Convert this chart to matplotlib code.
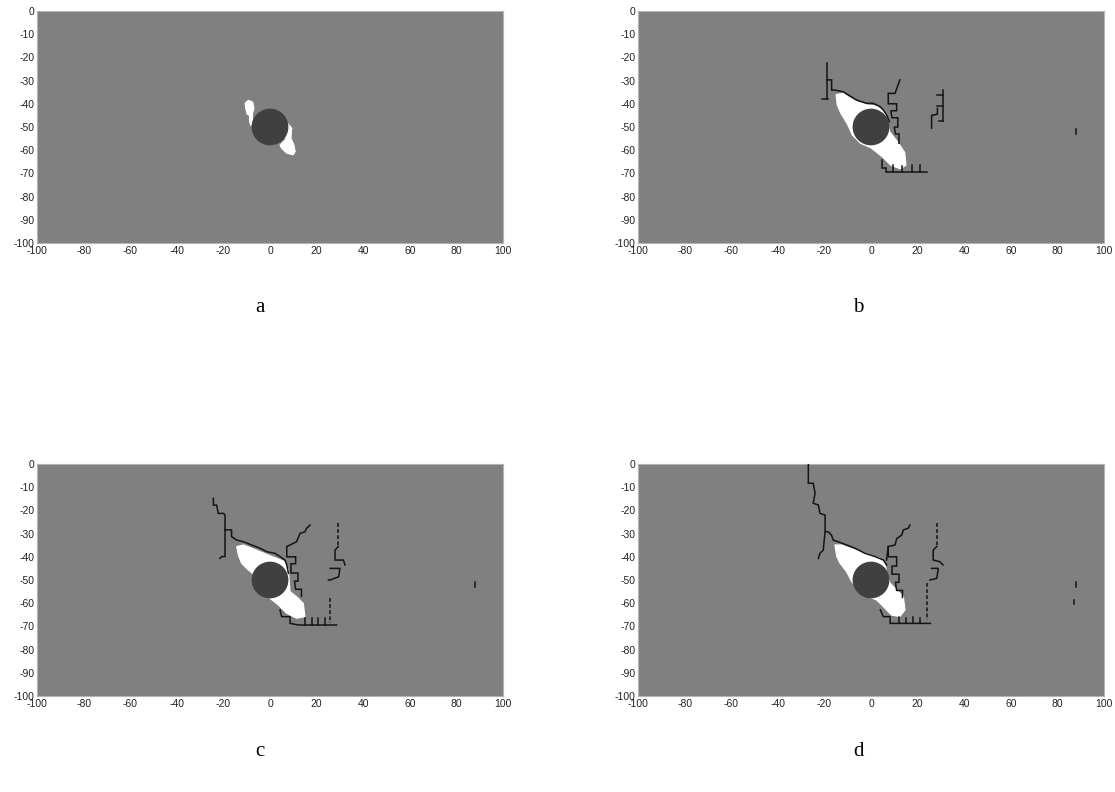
import numpy as np
import matplotlib.pyplot as plt
from matplotlib.patches import Circle

# robot body (same in every frame)
ROBOT_X = 0.0
ROBOT_Y = -50.0
ROBOT_R = 7.6

X_TICKS = list(range(-100, 101, 20))
Y_TICKS = list(range(0, -101, -10))
PANEL_LABELS = ["a", "b", "c", "d"]

# free (white) cells seen by the sensor, one outline per blob
FREE_A = [
    [(-10.7, -39.8), (-9.3, -38.5), (-7.4, -39.3), (-6.9, -42.0), (-7.5, -44.0),
     (-7.6, -47.0), (-8.2, -49.5), (-8.8, -47.5), (-8.8, -45.0), (-9.8, -44.5), (-10.3, -42.5)],
    [(7.6, -48.5), (9.3, -50.5), (9.0, -55.0), (10.2, -57.5), (10.8, -60.5), (10.0, -62.0),
     (7.2, -61.3), (5.0, -59.2), (4.3, -57.8), (6.5, -55.5), (7.5, -52.0)],
]
FREE_B = [
    [(-15.0, -36.0), (-12.0, -35.5), (-9.0, -37.5), (-6.0, -39.0), (-1.5, -40.5), (2.5, -41.0),
     (5.5, -43.5), (7.0, -47.0), (8.0, -52.0), (11.5, -56.5), (14.5, -61.0), (15.0, -66.5),
     (12.5, -68.0), (8.5, -66.5), (5.0, -63.0), (0.0, -59.0), (-4.5, -57.0), (-8.0, -53.5),
     (-10.0, -49.0), (-13.0, -44.0), (-14.5, -40.5)],
]
FREE_C = [
    [(-14.3, -35.6), (-11.4, -34.9), (-7.9, -36.3), (-0.7, -39.2), (6.4, -42.1), (7.9, -45.7),
     (8.6, -55.0), (11.4, -57.2), (14.3, -60.1), (15.0, -65.8), (11.4, -66.5), (7.2, -64.4),
     (3.6, -60.8), (0.0, -57.9), (-5.7, -48.6), (-9.3, -45.7), (-12.2, -42.8), (-13.6, -39.2)],
]
FREE_D = [
    [(-15.5, -34.9), (-12.6, -34.9), (-8.9, -36.3), (-4.7, -37.8), (-0.4, -39.2), (3.9, -40.7),
     (6.0, -42.8), (6.7, -47.1), (8.2, -51.4), (11.0, -54.3), (13.9, -57.2), (14.6, -62.9),
     (12.4, -65.8), (8.8, -65.1), (5.3, -61.5), (2.4, -58.6), (-1.2, -57.2), (-4.7, -55.0),
     (-8.3, -50.7), (-10.5, -46.4), (-13.3, -42.8), (-14.7, -39.9)],
]

# occupied cells (walls), as polylines
WALLS_A = []
WALLS_B = [
    [(-19.0, -22.5), (-19.0, -38.1)],
    [(-21.2, -38.1), (-18.3, -38.1)],
    [(-19.0, -29.7), (-16.9, -29.7), (-16.9, -34.1), (-15.5, -34.1), (-11.9, -34.8), (-9.7, -36.2),
     (-6.2, -38.4), (-1.9, -39.8), (1.0, -39.8), (3.9, -41.2), (5.3, -42.7), (6.7, -44.8), (7.9, -47.7)],
    [(12.4, -29.7), (10.3, -35.5), (7.4, -35.5), (7.4, -40.0), (11.0, -40.0), (11.0, -43.0),
     (8.5, -43.0), (9.0, -46.0), (11.5, -46.0), (11.5, -50.0), (10.0, -50.0), (10.5, -53.0),
     (12.0, -53.0), (12.0, -57.0)],
    [(4.6, -64.2), (4.6, -67.8), (6.5, -67.8), (6.5, -69.3), (23.9, -69.3)],
    [(9.6, -66.4), (9.6, -69.3)], [(13.2, -67.0), (13.2, -69.3)],
    [(17.5, -66.5), (17.5, -69.3)], [(21.1, -66.5), (21.1, -69.3)],
    [(31.0, -34.0), (31.0, -47.5)],
    [(28.5, -36.0), (31.0, -36.0)], [(28.5, -41.0), (31.0, -41.0)], [(29.0, -47.5), (31.0, -47.5)],
    [(26.0, -50.5), (26.0, -45.0), (28.5, -44.5), (28.5, -42.0)],
    [(88.0, -51.0), (88.0, -53.0)],
]
WALLS_C = [
    [(-24.3, -14.8), (-24.3, -17.7), (-22.9, -17.7), (-22.2, -21.3), (-20.0, -21.3), (-19.3, -22.0),
     (-19.3, -39.9), (-20.7, -39.9), (-21.5, -40.7)],
    [(-19.3, -28.4), (-16.5, -28.4), (-16.5, -31.3), (-14.3, -32.8), (-11.4, -33.5), (-7.9, -34.9),
     (-4.3, -36.3), (-1.4, -37.8), (2.1, -38.5), (4.3, -39.9), (6.4, -41.4), (7.2, -43.5), (7.9, -47.1)],
    [(7.2, -35.6), (11.4, -33.5), (12.9, -29.9), (15.0, -29.2), (15.7, -27.7), (17.2, -26.3)],
    [(7.2, -35.6), (7.2, -40.0), (11.0, -40.0), (11.0, -43.0), (9.0, -43.0), (9.0, -47.0),
     (12.0, -47.0), (12.0, -50.5), (10.5, -50.5), (11.0, -54.0), (13.5, -54.0), (13.5, -57.0)],
    [(29.3, -35.6), (27.9, -37.1), (27.9, -41.4), (31.5, -41.4), (32.2, -43.5)],
    [(25.8, -45.0), (30.0, -45.0), (29.5, -48.6), (25.8, -50.0), (25.1, -50.0)],
    [(4.3, -62.9), (5.0, -65.8), (8.6, -65.8), (8.6, -68.7), (12.2, -69.4), (28.6, -69.4)],
    [(15.0, -66.5), (15.0, -69.4)], [(17.9, -66.5), (17.9, -69.4)],
    [(20.7, -66.5), (20.7, -69.4)], [(23.6, -66.5), (23.6, -69.4)],
    [(88.0, -51.0), (88.0, -53.0)],
]
WALLS_D = [
    [(-26.9, 0.0), (-26.9, -8.3), (-24.8, -8.3), (-24.0, -12.6), (-24.8, -16.9), (-22.6, -17.7),
     (-21.9, -21.3), (-19.7, -22.0), (-19.7, -29.2), (-18.3, -29.2), (-17.0, -30.6), (-16.2, -32.8),
     (-14.1, -33.5), (-10.5, -34.9), (-6.9, -36.3), (-2.6, -38.5), (1.7, -39.9), (5.3, -41.4),
     (6.7, -43.5)],
    [(-19.7, -29.2), (-20.5, -37.1), (-21.9, -38.5), (-22.6, -40.7)],
    [(6.7, -41.4), (7.4, -35.6), (10.3, -34.9), (11.0, -32.2), (13.2, -30.6), (13.9, -28.4),
     (16.0, -27.7), (16.7, -26.3)],
    [(7.4, -35.6), (7.4, -40.0), (11.0, -40.0), (11.0, -44.0), (9.0, -44.0), (9.0, -47.5),
     (12.0, -47.5), (12.0, -51.0), (10.5, -51.0), (11.0, -54.5), (13.5, -54.5), (13.5, -57.5)],
    [(28.2, -35.6), (26.7, -37.1), (26.7, -41.4), (29.5, -42.1), (30.9, -43.5)],
    [(26.0, -45.0), (28.9, -45.0), (28.2, -49.3), (25.3, -50.0)],
    [(4.0, -62.9), (5.3, -65.8), (8.2, -65.8), (8.2, -68.7), (25.5, -68.7)],
    [(12.0, -66.0), (12.0, -68.7)], [(15.0, -66.5), (15.0, -68.7)],
    [(18.0, -66.0), (18.0, -68.7)], [(21.0, -66.5), (21.0, -68.7)],
    [(88.0, -51.0), (88.0, -53.0)],
    [(87.3, -58.5), (87.3, -60.5)],
]

# sparse (dashed-looking) wall runs
DASHED_A = []
DASHED_B = []
DASHED_C = [
    [(29.3, -25.6), (29.3, -35.6)],
    [(25.8, -57.9), (25.8, -68.7)],
]
DASHED_D = [
    [(28.2, -25.6), (28.2, -35.6)],
    [(23.9, -51.4), (23.9, -67.2)],
]

FREE = [FREE_A, FREE_B, FREE_C, FREE_D]
WALLS = [WALLS_A, WALLS_B, WALLS_C, WALLS_D]
DASHED = [DASHED_A, DASHED_B, DASHED_C, DASHED_D]

W, H = 1115, 792
# axes boxes in pixels: left, top, width, height
BOXES = [(37, 11, 466, 232), (638, 11, 466, 232), (37, 464, 466, 232), (638, 464, 466, 232)]
LABEL_POS = [(260, 308), (858, 308), (260, 752), (858, 752)]


def draw_panel(ax, free, walls, dashed):
    ax.set_facecolor("#808080")
    for blob in free:
        xy = np.array(blob)
        ax.fill(xy[:, 0], xy[:, 1], color="white", lw=0.8, ec="white", zorder=2)
    for line in walls:
        xy = np.array(line)
        ax.plot(xy[:, 0], xy[:, 1], color="#141414", lw=1.1, solid_joinstyle="miter", zorder=3)
    for line in dashed:
        xy = np.array(line)
        ax.plot(xy[:, 0], xy[:, 1], color="#141414", lw=1.1, ls=(0, (2.5, 1.5)), zorder=3)
    ax.add_patch(Circle((ROBOT_X, ROBOT_Y), ROBOT_R, color="#404040", zorder=4))

    ax.set_xlim(-100, 100)
    ax.set_ylim(-100, 0)
    ax.set_xticks(X_TICKS)
    ax.set_yticks(Y_TICKS)
    ax.tick_params(length=0, labelsize=7.5, labelcolor="#222222", pad=2)
    for s in ax.spines.values():
        s.set_color("#b4b4b4")
        s.set_linewidth(0.8)


def main():
    plt.rcParams["font.family"] = ["Liberation Sans", "DejaVu Sans"]
    plt.rcParams["axes.unicode_minus"] = False
    fig = plt.figure(figsize=(W / 100, H / 100), dpi=100)

    for i in range(4):
        l, t, w, h = BOXES[i]
        ax = fig.add_axes([l / W, 1 - (t + h) / H, w / W, h / H])
        draw_panel(ax, FREE[i], WALLS[i], DASHED[i])
        lx, ly = LABEL_POS[i]
        fig.text(lx / W, 1 - ly / H, PANEL_LABELS[i], ha="center", va="center",
                 fontsize=15, family="Liberation Serif")

    fig.savefig("out.png", dpi=100)


if __name__ == "__main__":
    main()
